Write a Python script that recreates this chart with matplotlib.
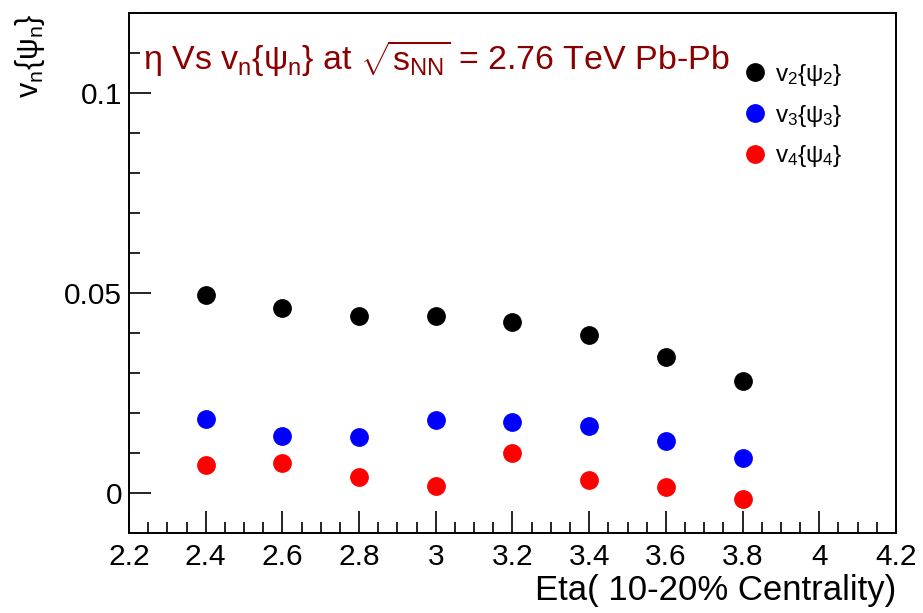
import matplotlib
matplotlib.use("Agg")
import matplotlib.pyplot as plt
from matplotlib.ticker import MultipleLocator, FixedLocator

plt.rcParams["font.family"] = ["Liberation Sans", "DejaVu Sans"]
plt.rcParams["mathtext.fontset"] = "custom"
plt.rcParams["mathtext.rm"] = "Liberation Sans"
plt.rcParams["mathtext.it"] = "Liberation Sans"
plt.rcParams["mathtext.bf"] = "Liberation Sans:bold"

eta = [2.4, 2.6, 2.8, 3.0, 3.2, 3.4, 3.6, 3.8]
v2 = [0.0496, 0.0463, 0.0443, 0.0442, 0.0427, 0.0395, 0.0340, 0.0279]
v3 = [0.0184, 0.0142, 0.0139, 0.0183, 0.0178, 0.0167, 0.0131, 0.0087]
v4 = [0.0071, 0.0074, 0.0040, 0.0017, 0.0101, 0.0032, 0.0016, -0.0014]

x_ticks = [2.2, 2.4, 2.6, 2.8, 3.0, 3.2, 3.4, 3.6, 3.8, 4.0, 4.2]
x_tick_labels = ["2.2", "2.4", "2.6", "2.8", "3", "3.2", "3.4", "3.6", "3.8", "4", "4.2"]
y_ticks = [0.0, 0.05, 0.1]
y_tick_labels = ["0", "0.05", "0.1"]

fig = plt.figure(figsize=(9.23, 6.13), dpi=100)
ax = fig.add_axes([0.1398, 0.1305, 0.8309, 0.8478])

ms = 12.5
ax.plot(eta, v2, "o", color="black", ms=ms, label=r"v$_{2}${$\psi_{2}$}")
ax.plot(eta, v3, "o", color="#0000ff", ms=ms, label=r"v$_{3}${$\psi_{3}$}")
ax.plot(eta, v4, "o", color="#ff0000", ms=ms, label=r"v$_{4}${$\psi_{4}$}")

ax.set_xlim(2.2, 4.2)
ax.set_ylim(-0.01, 0.12)

ax.xaxis.set_major_locator(FixedLocator(x_ticks))
ax.set_xticklabels(x_tick_labels)
ax.xaxis.set_minor_locator(MultipleLocator(0.05))
ax.yaxis.set_major_locator(FixedLocator(y_ticks))
ax.set_yticklabels(y_tick_labels)
ax.yaxis.set_minor_locator(MultipleLocator(0.01))

ax.tick_params(axis="both", which="both", direction="in", top=False, right=False,
               labelsize=21.5, width=1.2)
ax.tick_params(axis="x", which="major", length=16, pad=7)
ax.tick_params(axis="x", which="minor", length=8)
ax.tick_params(axis="y", which="major", length=16, pad=5)
ax.tick_params(axis="y", which="minor", length=8)
for s in ax.spines.values():
    s.set_linewidth(1.4)

ax.set_xlabel("Eta( 10-20% Centrality)", fontsize=25, loc="right", labelpad=2)
ax.set_ylabel(r"v$_{n}${$\psi_{n}$}", fontsize=22, loc="top", labelpad=12)

ax.text(0.018, 0.89, r"$\eta$ Vs v$_{n}${$\psi_{n}$} at $\sqrt{s_{NN}}$ = 2.76 TeV Pb-Pb",
        transform=ax.transAxes, fontsize=24.5, color="#8b0000", ha="left", va="baseline")

ax.legend(loc="upper left", bbox_to_anchor=(0.785, 0.925), frameon=False, fontsize=17.5,
          handletextpad=0.2, labelspacing=0.6, borderaxespad=0, handlelength=1.2)

fig.savefig("out.png", dpi=100)
